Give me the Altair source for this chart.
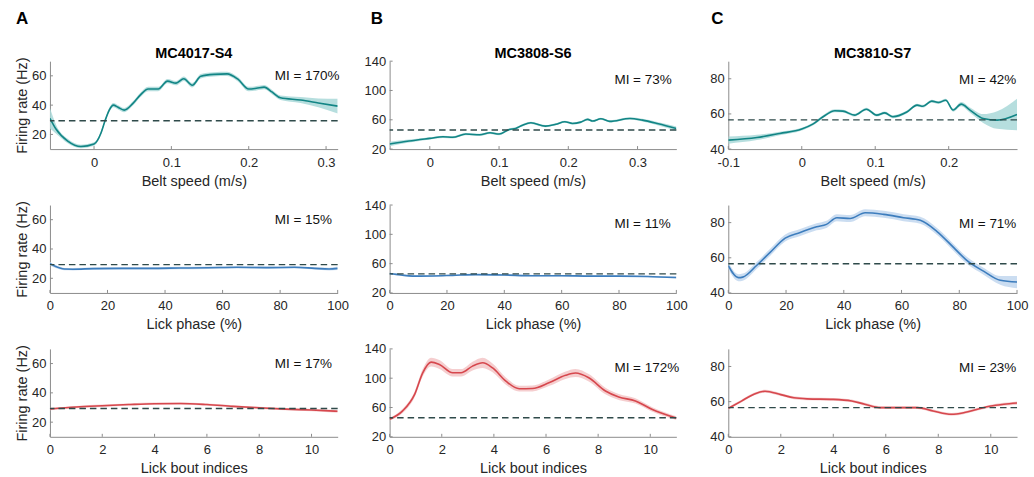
import altair as alt
import pandas as pd

FONT = "Liberation Sans"
TEXT = "#262626"
AXIS = "#8c8c8c"
DASH = "#2f4a4a"

TEAL, TEAL_BAND = "#128585", "#a9d8d8"
BLUE, BLUE_BAND = "#3d7dbd", "#c2d7ee"
RED, RED_BAND = "#d6474d", "#f3c5c7"

# ---------------- Column A: MC4017-S4 ----------------
a_speed_x = [-0.057, -0.049, -0.034, -0.017, 0.0, 0.009, 0.014, 0.02, 0.025, 0.031, 0.039,
             0.05, 0.06, 0.07, 0.083, 0.095, 0.106, 0.116, 0.127, 0.138, 0.155, 0.172,
             0.186, 0.2, 0.21, 0.22, 0.23, 0.241, 0.267, 0.29, 0.315]
a_speed_y = [31, 23.5, 15.5, 11.8, 13.5, 21, 29, 37, 40, 38.5, 36.6,
             41, 47, 51, 51, 56.4, 55, 58, 53.6, 59.7, 61, 61.3,
             57.7, 51, 51.5, 52.3, 49, 45, 43.5, 41.5, 39.3]
a_speed_se = [7, 3, 1.5, 1.2, 1.2, 1.2, 1.2, 1.5, 1.5, 1.5, 1.5,
              1.5, 1.5, 1.5, 1.5, 1.5, 1.5, 1.5, 1.5, 1.5, 1.5, 1.5,
              1.5, 1.5, 1.5, 1.5, 1.5, 1.5, 2, 3, 5]

a_phase_x = [0, 2, 5, 8, 15, 25, 35, 45, 55, 65, 75, 85, 92, 97, 100]
a_phase_y = [30, 28, 26.3, 26.2, 26.6, 26.8, 26.8, 27, 27.2, 27.5, 27.3, 27.5, 26.8, 26.3, 26.8]
a_phase_se = [1.2, 1, 0.8, 0.8, 0.8, 0.8, 0.8, 0.8, 0.8, 0.8, 0.8, 0.8, 0.8, 0.9, 1.2]

a_bout_x = [0, 1, 2, 3, 4, 5, 6, 7, 8, 9, 10, 11]
a_bout_y = [29, 30.3, 31.2, 32, 32.6, 32.7, 32, 30.8, 29.8, 28.9, 28.3, 27.4]
a_bout_se = [0.8, 0.8, 0.8, 0.8, 0.8, 0.8, 0.8, 0.8, 0.8, 0.8, 0.8, 0.9]

a_baseline = 29.3
a_mi = [170, 15, 17]

# ---------------- Column B: MC3808-S6 ----------------
b_speed_x = [-0.058, -0.03, 0.0, 0.019, 0.033, 0.052, 0.072, 0.087, 0.1, 0.115, 0.124,
             0.134, 0.146, 0.167, 0.182, 0.195, 0.206, 0.218, 0.228, 0.235, 0.247,
             0.26, 0.289, 0.307, 0.33, 0.356]
b_speed_y = [27, 31, 34.6, 36.8, 36.1, 40.5, 39.5, 42.2, 40.5, 46.8, 48.2,
             52.7, 55.9, 51.4, 53.9, 57.3, 55, 56.8, 60.5, 58.3, 61.4,
             57.8, 61.8, 59.5, 54.5, 48]
b_speed_se = [3, 2, 1.5, 1.5, 1.5, 1.5, 1.5, 1.5, 1.5, 1.5, 1.5,
              1.5, 1.5, 1.5, 1.5, 1.5, 1.5, 1.5, 1.5, 1.5, 1.5,
              1.5, 1.5, 1.8, 2.2, 3]

b_phase_x = [0, 4, 8, 15, 22, 30, 40, 50, 60, 70, 80, 90, 100]
b_phase_y = [46.5, 44.5, 43, 43.2, 44, 45, 44.5, 43.5, 43.5, 43, 43, 42.5, 41]
b_phase_se = [1.2, 1, 1, 1, 1, 1, 1, 1, 1, 1, 1, 1, 1.3]

b_bout_x = [0, 0.5, 0.96, 1.27, 1.59, 1.91, 2.42, 2.74, 3.18, 3.57, 3.95, 4.46,
            4.97, 5.48, 6.11, 6.75, 7.13, 7.64, 8.28, 8.79, 9.43, 10.06, 11]
b_bout_y = [44, 55.4, 78, 107.4, 122, 118.7, 107.4, 107.4, 116.5, 121, 114, 96,
            85.7, 86, 93.7, 104, 107, 100.6, 82.5, 74.4, 69, 57.6, 45.5]
b_bout_se = [2, 3, 4, 5, 6, 6, 5, 5, 6, 7, 6, 5,
             4, 4, 4.5, 5, 5.5, 5, 4.5, 4, 3.5, 3, 2.5]

b_baseline = 46
b_mi = [73, 11, 172]

# ---------------- Column C: MC3810-S7 ----------------
c_speed_x = [-0.1, -0.061, -0.03, 0.0, 0.015, 0.029, 0.045, 0.056, 0.072, 0.088, 0.102,
             0.113, 0.124, 0.143, 0.157, 0.165, 0.177, 0.186, 0.196, 0.206, 0.217,
             0.229, 0.247, 0.266, 0.293]
c_speed_y = [45.1, 46.6, 48.9, 51.4, 54.2, 58.4, 61.8, 61.6, 59.3, 62.7, 59.3,
             60.6, 58.4, 61.1, 65, 64.4, 67.3, 66.5, 67.8, 62.2, 65.6,
             62.2, 57.4, 56.5, 59.7]
c_speed_se = [2, 1.5, 1, 0.8, 0.8, 0.8, 0.8, 0.8, 0.8, 0.8, 0.8,
              0.8, 0.8, 0.8, 0.8, 0.8, 0.8, 0.8, 0.8, 0.9, 1.2,
              1.5, 2.5, 5, 9]

c_phase_x = [0, 3.5, 5, 9.8, 14.5, 19.7, 24.9, 30.6, 34, 37.6, 42.2, 47.4, 53.8,
             60.7, 66.5, 72.3, 78, 82.7, 88.4, 94.2, 100]
c_phase_y = [55.6, 48.7, 49, 55.6, 63.1, 71.2, 74.4, 77.6, 79, 82.8, 82.3, 85.6, 84.7,
             82.8, 81.3, 74.9, 65.9, 58.4, 52.4, 47.2, 46.2]
c_phase_se = [2, 2, 2, 2, 2, 2, 2, 2, 2, 2, 2, 2, 2,
              2, 2, 2, 2, 2, 2, 2.5, 3.5]

c_bout_x = [0, 0.5, 1.0, 1.4, 2.0, 2.5, 3.0, 4.0, 4.7, 5.2, 5.8, 6.5, 7.2, 7.8,
            8.5, 9.0, 9.5, 10.0, 10.5, 11]
c_bout_y = [56.2, 60.3, 64.4, 65.9, 64, 62.2, 61.6, 61.3, 60.4, 58.5, 56.6, 56.6, 56.6, 54.7,
            52.8, 53.8, 55.7, 57.5, 58.5, 59.2]
c_bout_se = [0.8, 0.8, 0.8, 0.8, 0.8, 0.8, 0.8, 0.8, 0.8, 0.8, 0.8, 0.8, 0.8, 0.8,
             0.8, 0.8, 0.8, 0.8, 0.8, 0.9]

c_baseline = 56.6
c_mi = [42, 71, 23]

# ---------------- Axis settings ----------------
a_speed_dom, a_speed_ticks = [-0.057, 0.315], [0, 0.1, 0.2, 0.3]
b_speed_dom, b_speed_ticks = [-0.058, 0.356], [0, 0.1, 0.2, 0.3]
c_speed_dom, c_speed_ticks = [-0.1, 0.293], [-0.1, 0, 0.1, 0.2]
phase_dom, phase_ticks = [0, 100], [0, 20, 40, 60, 80, 100]
bout_dom, bout_ticks = [0, 11], [0, 2, 4, 6, 8, 10]

a_ydom, a_yticks = [10, 70], [20, 40, 60]
b_ydom, b_yticks = [20, 140], [20, 60, 100, 140]
c_ydom, c_yticks = [40, 90], [40, 60, 80]

H = 88
TICK = 3
XTITLES = ["Belt speed (m/s)", "Lick phase (%)", "Lick bout indices"]
COLORS = [(TEAL, TEAL_BAND), (BLUE, BLUE_BAND), (RED, RED_BAND)]


def panel(x, y, se, color, band, xdom, xticks, ydom, yticks, baseline, mi,
          xtitle, ytitle, width, mi_x, mi_y, title=None, letter=None, letter_dx=0):
    df = pd.DataFrame({
        "x": x, "y": y,
        "lo": [v - e for v, e in zip(y, se)],
        "hi": [v + e for v, e in zip(y, se)],
    })
    xscale = alt.Scale(domain=xdom, nice=False, zero=False)
    yscale = alt.Scale(domain=ydom, nice=False, zero=False)
    # every layer carries the same axis definition so the merged axis stays intact
    xaxis = alt.Axis(values=xticks, title=xtitle, labelExpr="'' + datum.value")
    yaxis = alt.Axis(values=yticks, title=ytitle)

    def X(field):
        return alt.X(field, scale=xscale, axis=xaxis)

    def Y(field):
        return alt.Y(field, scale=yscale, axis=yaxis)

    base = alt.Chart(df)
    area = base.mark_area(color=band, opacity=0.85, interpolate="monotone", clip=True).encode(
        x=X("x:Q"), y=Y("lo:Q"), y2="hi:Q",
    )
    line = base.mark_line(color=color, strokeWidth=1.6, interpolate="monotone", clip=True).encode(
        x=X("x:Q"), y=Y("y:Q")
    )
    dash = alt.Chart(pd.DataFrame({"y": [baseline]})).mark_rule(
        color=DASH, strokeDash=[6.5, 4], strokeWidth=1.4
    ).encode(y=Y("y:Q"))
    # short inward tick marks at the axis tick values
    xt = alt.Chart(pd.DataFrame({"x": xticks})).mark_rule(color=AXIS, strokeWidth=1).encode(
        x=X("x:Q"), y=alt.value(H), y2=alt.value(H - TICK)
    )
    yt = alt.Chart(pd.DataFrame({"y": yticks})).mark_rule(color=AXIS, strokeWidth=1).encode(
        y=Y("y:Q"), x=alt.value(0), x2=alt.value(TICK)
    )
    label = alt.Chart(pd.DataFrame({"t": [f"MI = {mi}%"]})).mark_text(
        align="left", baseline="middle", fontSize=13.5, font=FONT, color="#111111"
    ).encode(text="t:N", x=alt.value(mi_x), y=alt.value(mi_y))
    layers = [area, line, dash, xt, yt, label]
    if title:
        layers.append(alt.Chart(pd.DataFrame({"t": [title]})).mark_text(
            align="center", baseline="alphabetic", fontSize=14.5, fontWeight="bold",
            font=FONT, color="#000000"
        ).encode(text="t:N", x=alt.value(width / 2), y=alt.value(-3)))
    if letter:
        layers.append(alt.Chart(pd.DataFrame({"t": [letter]})).mark_text(
            align="left", baseline="alphabetic", fontSize=17, fontWeight="bold",
            font=FONT, color="#000000"
        ).encode(text="t:N", x=alt.value(letter_dx), y=alt.value(-37)))

    return alt.layer(*layers).properties(width=width, height=H)


columns = [
    dict(letter="A", name="MC4017-S4", dx=-34, width=288, mi_x=225, mi_y=15,
         ytitle="Firing rate (Hz)", ydom=a_ydom, yticks=a_yticks, baseline=a_baseline, mi=a_mi,
         rows=[(a_speed_x, a_speed_y, a_speed_se, a_speed_dom, a_speed_ticks),
               (a_phase_x, a_phase_y, a_phase_se, phase_dom, phase_ticks),
               (a_bout_x, a_bout_y, a_bout_se, bout_dom, bout_ticks)]),
    dict(letter="B", name="MC3808-S6", dx=-19, width=287, mi_x=225, mi_y=19,
         ytitle=None, ydom=b_ydom, yticks=b_yticks, baseline=b_baseline, mi=b_mi,
         rows=[(b_speed_x, b_speed_y, b_speed_se, b_speed_dom, b_speed_ticks),
               (b_phase_x, b_phase_y, b_phase_se, phase_dom, phase_ticks),
               (b_bout_x, b_bout_y, b_bout_se, bout_dom, bout_ticks)]),
    dict(letter="C", name="MC3810-S7", dx=-17, width=289, mi_x=231, mi_y=19,
         ytitle=None, ydom=c_ydom, yticks=c_yticks, baseline=c_baseline, mi=c_mi,
         rows=[(c_speed_x, c_speed_y, c_speed_se, c_speed_dom, c_speed_ticks),
               (c_phase_x, c_phase_y, c_phase_se, phase_dom, phase_ticks),
               (c_bout_x, c_bout_y, c_bout_se, bout_dom, bout_ticks)]),
]

# Panels in row-major order for a 3-column grid
panels = []
for r in range(3):
    for col in columns:
        x, y, se, xdom, xticks = col["rows"][r]
        panels.append(panel(
            x, y, se, COLORS[r][0], COLORS[r][1], xdom, xticks, col["ydom"], col["yticks"],
            col["baseline"], col["mi"][r], XTITLES[r], col["ytitle"], col["width"],
            col["mi_x"], col["mi_y"],
            title=col["name"] if r == 0 else None,
            letter=col["letter"] if r == 0 else None, letter_dx=col["dx"],
        ))

chart = alt.concat(
    *panels, columns=3, spacing={"row": 56, "column": 52}, bounds="flush"
).properties(
    padding={"left": 14, "top": 9, "right": 5, "bottom": 5},
    background="white",
).configure_view(
    stroke="transparent"
).configure_axis(
    grid=False, ticks=False, tickSize=0,
    domainColor=AXIS, domainWidth=1,
    labelFont=FONT, labelFontSize=13, labelColor=TEXT, labelPadding=5,
    labelFlush=False, labelOverlap=False,
    titleFont=FONT, titleFontSize=14.5, titleFontWeight="normal", titleColor=TEXT,
).configure_axisX(
    labelPadding=7, titlePadding=5
).configure_axisY(
    titlePadding=2, labelPadding=4
)

chart.save("out.html", embed_options={"renderer": "svg", "actions": False})
